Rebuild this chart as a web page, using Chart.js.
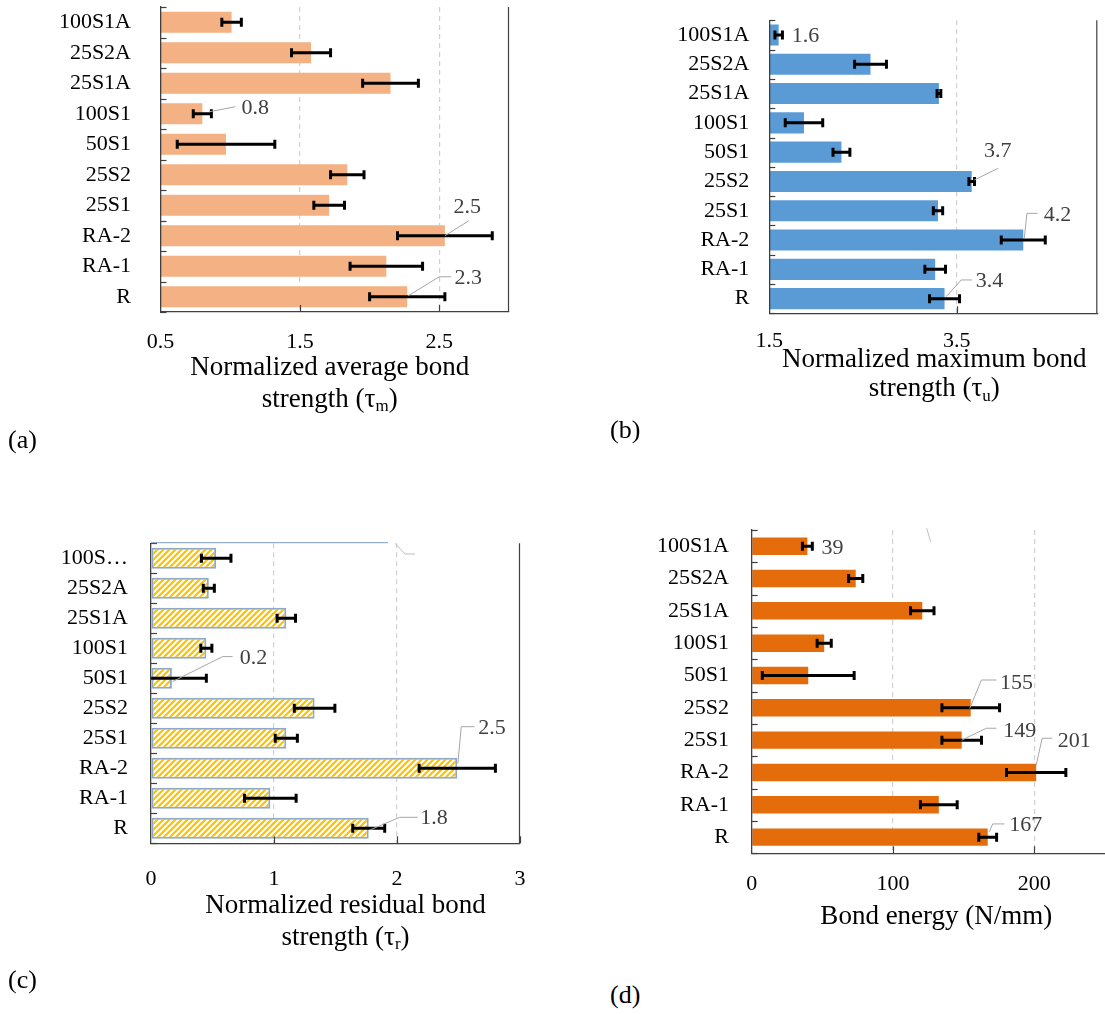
<!DOCTYPE html>
<html>
<head>
<meta charset="utf-8">
<title>Normalized bond strength and bond energy</title>
<script src="https://cdn.jsdelivr.net/npm/chart.js@4.4.1/dist/chart.umd.min.js"></script>
<style>
  html, body { margin: 0; padding: 0; background: #fff; }
  #page { position: relative; width: 1105px; height: 1014px; overflow: hidden; }
  .panel { position: absolute; }
  .panel canvas { display: block; }
  .tag { position: absolute; font: 26px "Liberation Serif", "Times New Roman", serif; line-height: 26px; color: #000; }
</style>
</head>
<body>
<div id="page">
  <div class="panel" style="left:0px;top:0px"><canvas id="chartA" width="540" height="430"></canvas></div>
  <div class="panel" style="left:560px;top:0px"><canvas id="chartB" width="545" height="430"></canvas></div>
  <div class="panel" style="left:0px;top:500px"><canvas id="chartC" width="560" height="470"></canvas></div>
  <div class="panel" style="left:560px;top:500px"><canvas id="chartD" width="545" height="470"></canvas></div>
  <div class="tag" style="left:8px;top:427px">(a)</div>
  <div class="tag" style="left:610px;top:417px">(b)</div>
  <div class="tag" style="left:8px;top:967px">(c)</div>
  <div class="tag" style="left:610px;top:982px">(d)</div>
</div>
<script>
// specimens, top to bottom as in the figure
const categories = ['100S1A', '25S2A', '25S1A', '100S1', '50S1', '25S2', '25S1', 'RA-2', 'RA-1', 'R'];

// (a) normalized average bond strength
const avgBond = [1.01, 1.58, 2.15, 0.80, 0.97, 1.84, 1.71, 2.54, 2.12, 2.27];
const avgBondErr = [0.07, 0.14, 0.20, 0.065, 0.35, 0.12, 0.11, 0.34, 0.26, 0.27];
const avgTicks = [0.5, 1.5, 2.5];

// (b) normalized maximum bond strength
const maxBond = [1.60, 2.58, 3.31, 1.87, 2.27, 3.66, 3.30, 4.21, 3.27, 3.37];
const maxBondErr = [0.04, 0.17, 0.02, 0.20, 0.09, 0.03, 0.05, 0.235, 0.11, 0.16];
const maxTicks = [1.5, 3.5];

// (c) normalized residual bond strength
const resBond = [0.53, 0.47, 1.10, 0.45, 0.17, 1.33, 1.10, 2.49, 0.97, 1.77];
const resBondErr = [0.12, 0.045, 0.075, 0.045, 0.28, 0.165, 0.09, 0.31, 0.21, 0.13];
const resTicks = [0, 1, 2, 3];

// (d) bond energy, N/mm
const energy = [39.4, 73.6, 120.7, 51.3, 40.0, 155.0, 148.6, 201.3, 132.4, 167.0];
const energyErr = [3.5, 5.0, 8.3, 5.0, 32.5, 20.4, 14.0, 21.0, 13.0, 6.3];
const energyTicks = [0, 100, 200];

const SERIF = '"Liberation Serif", "Times New Roman", serif';

function hatch() {
  const c = document.createElement('canvas');
  c.width = 6; c.height = 6;
  const g = c.getContext('2d');
  g.fillStyle = '#FFC000';
  g.fillRect(0, 0, 6, 6);
  g.strokeStyle = '#ffffff';
  g.lineWidth = 2;
  g.beginPath();
  g.moveTo(-2, 8); g.lineTo(8, -2);
  g.moveTo(-5, 5); g.lineTo(5, -5);
  g.moveTo(1, 11); g.lineTo(11, 1);
  g.stroke();
  return g.createPattern(c, 'repeat');
}

function polyline(ctx, pts) {
  ctx.beginPath();
  pts.forEach((p, k) => k ? ctx.lineTo(p[0], p[1]) : ctx.moveTo(p[0], p[1]));
  ctx.stroke();
}

function extras(cfg) {
  return {
    id: 'extras',
    afterDatasetsDraw(chart) {
      const ctx = chart.ctx, area = chart.chartArea;
      const xs = chart.scales.x, ys = chart.scales.y;
      const bars = chart.getDatasetMeta(0).data;
      const vals = cfg.values;

      // error bars
      ctx.save();
      ctx.beginPath();
      ctx.rect(area.left, area.top - 5, area.right - area.left, area.bottom - area.top + 10);
      ctx.clip();
      ctx.strokeStyle = '#000';
      ctx.lineWidth = 3;
      bars.forEach((bar, i) => {
        const a = xs.getPixelForValue(vals[i] - cfg.err[i]);
        const b = xs.getPixelForValue(vals[i] + cfg.err[i]);
        ctx.beginPath();
        ctx.moveTo(a, bar.y); ctx.lineTo(b, bar.y);
        ctx.moveTo(a, bar.y - 4.5); ctx.lineTo(a, bar.y + 4.5);
        ctx.moveTo(b, bar.y - 4.5); ctx.lineTo(b, bar.y + 4.5);
        ctx.stroke();
      });
      ctx.restore();

      // inner tick marks
      ctx.save();
      ctx.strokeStyle = '#404040';
      ctx.lineWidth = 1.2;
      const band = ys.getPixelForValue(1) - ys.getPixelForValue(0);
      for (let i = 0; i <= categories.length; i++) {
        const y = Math.round(ys.getPixelForValue(i) - band / 2) + 0.5;
        polyline(ctx, [[area.left, y], [area.left + 6, y]]);
      }
      cfg.ticks.forEach(v => {
        if (v <= cfg.min) return;
        const x = Math.round(xs.getPixelForValue(v)) + 0.5;
        polyline(ctx, [[x, area.bottom], [x, area.bottom - 7]]);
      });
      if (cfg.rightBorder) {
        polyline(ctx, [[area.right - 0.5, area.top], [area.right - 0.5, area.bottom]]);
      }
      ctx.restore();

      // stray leader remnants from the source figure
      ctx.save();
      ctx.lineWidth = 1;
      (cfg.strays || []).forEach(s => {
        ctx.strokeStyle = s.color;
        polyline(ctx, s.pts.map(p => [area.left + p[0], area.top + p[1]]));
      });
      ctx.restore();

      // data labels with leader lines
      ctx.save();
      ctx.font = '22px ' + SERIF;
      ctx.fillStyle = '#404040';
      ctx.textAlign = 'center';
      ctx.textBaseline = 'middle';
      ctx.strokeStyle = '#A6A6A6';
      ctx.lineWidth = 1;
      cfg.labels.forEach(l => {
        const bar = bars[l.i];
        if (l.leader) polyline(ctx, l.leader.map(p => [bar.x + p[0], bar.y + p[1]]));
        ctx.fillText(vals[l.i].toFixed(cfg.labelDigits), bar.x + l.at[0], bar.y + l.at[1]);
      });
      ctx.restore();
    },
    afterDraw(chart) {
      const ctx = chart.ctx, area = chart.chartArea;
      const cx = (area.left + area.right) / 2 + cfg.title.dx;
      ctx.save();
      ctx.fillStyle = '#000';
      ctx.textBaseline = 'middle';
      ctx.textAlign = 'left';
      cfg.title.lines.forEach((segs, k) => {
        const y = area.bottom + cfg.title.dy[k];
        const fonts = segs.map(s => (s.sub ? '17px ' : '27px ') + SERIF);
        const widths = segs.map((s, j) => { ctx.font = fonts[j]; return ctx.measureText(s.text).width; });
        let x = cx - widths.reduce((a, b) => a + b, 0) / 2;
        segs.forEach((s, j) => {
          ctx.font = fonts[j];
          ctx.fillText(s.text, x, s.sub ? y + 7 : y);
          x += widths[j];
        });
      });
      ctx.restore();
    }
  };
}

function makePanel(cfg) {
  const f = cfg.frame;
  const zeroPad = s => { s.paddingLeft = 0; s.paddingRight = 0; s.paddingTop = 0; s.paddingBottom = 0; };
  return new Chart(document.getElementById(cfg.id), {
    type: 'bar',
    data: {
      labels: categories,
      datasets: [{
        data: cfg.values,
        backgroundColor: cfg.fill,
        borderColor: cfg.stroke || cfg.fill,
        borderWidth: cfg.strokeWidth || 0,
        borderSkipped: false,
        barPercentage: cfg.barPct,
        categoryPercentage: 1
      }]
    },
    options: {
      indexAxis: 'y',
      responsive: false,
      animation: false,
      devicePixelRatio: 1,
      layout: { padding: { left: 0, bottom: 0, top: f.top - f.y0, right: f.x0 + f.w - f.right } },
      plugins: { legend: { display: false }, tooltip: { enabled: false } },
      scales: {
        x: {
          type: 'linear',
          min: cfg.min,
          max: cfg.max,
          afterBuildTicks: s => { s.ticks = cfg.ticks.map(v => ({ value: v })); },
          afterFit: s => { s.height = f.y0 + f.h - f.bottom; zeroPad(s); },
          ticks: {
            padding: cfg.tickPad,
            color: '#000',
            font: { family: SERIF, size: 22 },
            maxRotation: 0,
            autoSkip: false,
            callback: v => Number(v).toFixed(cfg.tickDigits)
          },
          grid: {
            drawTicks: false,
            lineWidth: 1.2,
            color: c => (c.tick && c.tick.value > cfg.min && c.tick.value < cfg.max) ? '#D0D0D0' : 'rgba(0,0,0,0)'
          },
          border: { color: '#404040', width: 1.3, dash: [5, 4], z: 1 }
        },
        y: {
          type: 'category',
          offset: true,
          afterFit: s => { s.width = f.left - f.x0; zeroPad(s); },
          ticks: {
            padding: cfg.catPad,
            color: '#000',
            font: { family: SERIF, size: 22 },
            autoSkip: false,
            callback: (v, i) => {
              const t = categories[i];
              return cfg.maxChars && t.length > cfg.maxChars ? t.slice(0, cfg.maxChars - 1) + '\u2026' : t;
            }
          },
          grid: { display: false, drawTicks: false },
          border: { color: '#404040', width: 1.3, z: 1 }
        }
      }
    },
    plugins: [extras(cfg)]
  });
}

makePanel({
  id: 'chartA',
  frame: { x0: 0, y0: 0, w: 540, h: 430, left: 160.5, top: 7, right: 509, bottom: 312 },
  values: avgBond, err: avgBondErr, ticks: avgTicks, min: 0.5, max: 3,
  tickDigits: 1, labelDigits: 1, tickPad: 17, catPad: 29.5, barPct: 0.69,
  fill: '#F4B183', rightBorder: true,
  labels: [
    { i: 3, at: [53, -5.6], leader: [[7, -2], [33, -7]] },
    { i: 7, at: [22.4, -28.7], leader: [[0, 0], [24, -15]] },
    { i: 9, at: [61, -19], leader: [[1, -1], [32, -20], [44, -20]] }
  ],
  title: {
    dx: -5, dy: [56, 87.5],
    lines: [[{ text: 'Normalized average bond' }], [{ text: 'strength (\u03C4' }, { text: 'm', sub: true }, { text: ')' }]]
  }
});

makePanel({
  id: 'chartB',
  frame: { x0: 560, y0: 0, w: 545, h: 430, left: 769.3, top: 20.3, right: 1097.3, bottom: 313.3 },
  values: maxBond, err: maxBondErr, ticks: maxTicks, min: 1.5, max: 5,
  tickDigits: 1, labelDigits: 1, tickPad: 15, catPad: 20, barPct: 0.72,
  fill: '#5B9BD5', rightBorder: true,
  labels: [
    { i: 0, at: [26.8, 1] },
    { i: 5, at: [26, -29.8], leader: [[2.6, -1.5], [26.6, -13.2]] },
    { i: 7, at: [34.3, -25], leader: [[1, -1.7], [3.7, -26.7], [14.3, -26.7]] },
    { i: 9, at: [45, -17], leader: [[1.7, -2], [16.7, -18.7], [27.3, -18.7]] }
  ],
  title: {
    dx: 1, dy: [47, 76],
    lines: [[{ text: 'Normalized maximum bond' }], [{ text: 'strength (\u03C4' }, { text: 'u', sub: true }, { text: ')' }]]
  }
});

makePanel({
  id: 'chartC',
  frame: { x0: 0, y0: 500, w: 560, h: 470, left: 151, top: 543.3, right: 520, bottom: 843.3 },
  values: resBond, err: resBondErr, ticks: resTicks, min: 0, max: 3,
  tickDigits: 0, labelDigits: 1, tickPad: 22.5, catPad: 23, barPct: 0.7,
  fill: hatch(), stroke: '#8EA9C8', strokeWidth: 2, rightBorder: true, maxChars: 5,
  labels: [
    { i: 4, at: [81.7, -20], leader: [[0.7, 3.3], [50.7, -21.7], [60.7, -21.7]] },
    { i: 7, at: [34.8, -40], leader: [[0.6, -5], [4, -41.6], [17.3, -41.6]] },
    { i: 9, at: [65.2, -10], leader: [[1, 1.7], [31, -11], [49, -11]] }
  ],
  strays: [
    { color: '#7E9ACB', pts: [[0, -0.6], [237, -0.6]] },
    { color: '#BFBFBF', pts: [[244, 0], [254, 10.7], [264, 10.7]] }
  ],
  title: {
    dx: 10, dy: [62.7, 94.2],
    lines: [[{ text: 'Normalized residual bond' }], [{ text: 'strength (\u03C4' }, { text: 'r', sub: true }, { text: ')' }]]
  }
});

makePanel({
  id: 'chartD',
  frame: { x0: 560, y0: 500, w: 545, h: 470, left: 751.7, top: 530, right: 1105, bottom: 853.3 },
  values: energy, err: energyErr, ticks: energyTicks, min: 0, max: 250,
  tickDigits: 0, labelDigits: 0, tickPad: 17.5, catPad: 22.7, barPct: 0.54,
  fill: '#E46C0A', rightBorder: false,
  labels: [
    { i: 0, at: [25, 2] },
    { i: 5, at: [45.7, -24.5], leader: [[-1, 0.5], [10.7, -27.8], [25.7, -27.8]] },
    { i: 6, at: [58, -8.5], leader: [[0, 0], [24.7, -11.9], [34.7, -11.9]] },
    { i: 7, at: [38, -30.8], leader: [[0, -7.5], [6, -34.2], [16, -34.2]] },
    { i: 9, at: [38, -12.2], leader: [[1.7, -5.5], [5, -13.2], [16.7, -13.2]] }
  ],
  strays: [
    { color: '#BFBFBF', pts: [[175, -1.7], [179, 11.7]] }
  ],
  title: {
    dx: 8, dy: [63.7],
    lines: [[{ text: 'Bond energy (N/mm)' }]]
  }
});
</script>
</body>
</html>
